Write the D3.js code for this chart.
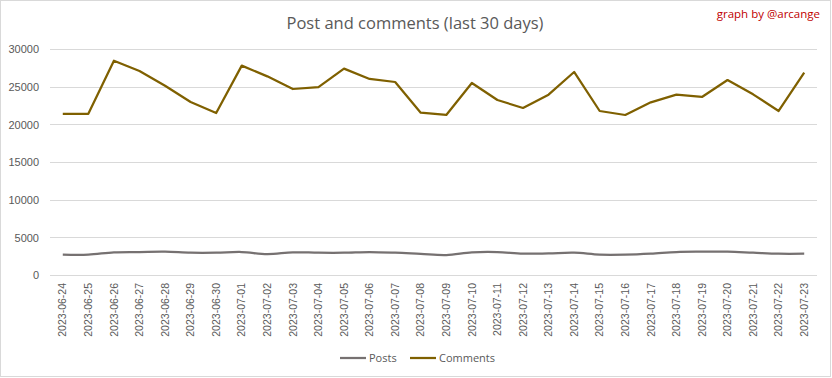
<!DOCTYPE html>
<html><head><meta charset="utf-8">
<script src="https://cdn.jsdelivr.net/npm/d3@7/dist/d3.min.js"></script>
<style>
html,body{margin:0;padding:0;background:#fff;}
svg{display:block;font-family:"Open Sans",sans-serif;}
</style></head>
<body><svg id="chart" width="832" height="378"></svg>
<script>
const dates = ["2023-06-24","2023-06-25","2023-06-26","2023-06-27","2023-06-28","2023-06-29","2023-06-30","2023-07-01","2023-07-02","2023-07-03","2023-07-04","2023-07-05","2023-07-06","2023-07-07","2023-07-08","2023-07-09","2023-07-10","2023-07-11","2023-07-12","2023-07-13","2023-07-14","2023-07-15","2023-07-16","2023-07-17","2023-07-18","2023-07-19","2023-07-20","2023-07-21","2023-07-22","2023-07-23"];
const posts = [2700,2700,3010,3050,3090,2960,2960,3050,2780,3010,2960,2960,3050,2960,2800,2650,3010,3050,2830,2870,2960,2700,2700,2830,3050,3090,3090,2960,2830,2830];
const comments = [21400,21400,28450,27080,25130,22960,21500,27790,26370,24690,24950,27390,26020,25620,21550,21240,25490,23230,22170,23940,26950,21770,21240,22920,23940,23630,25880,23980,21770,26860];
const yTicks = [0,5000,10000,15000,20000,25000,30000];
const seriesNames = ["Posts","Comments"];
const colors = ["#767171","#7f6000"];

const svg = d3.select("#chart");
const W = 832, H = 378;
const m = {left:50, right:15, top:49, bottom:103};

svg.append("rect").attr("x",0.5).attr("y",0.5).attr("width",W-2).attr("height",H-2)
  .attr("fill","#fff").attr("stroke","#d9d9d9");

const x = d3.scaleBand().domain(dates).range([m.left, W-m.right]);
const y = d3.scaleLinear().domain([0,30000]).range([H-m.bottom, m.top]);

svg.append("g").selectAll("line").data(yTicks).join("line")
  .attr("x1",m.left).attr("x2",W-m.right)
  .attr("y1",d=>Math.round(y(d))+0.5).attr("y2",d=>Math.round(y(d))+0.5)
  .attr("stroke","#d9d9d9").attr("stroke-width",1);

const yAxis = svg.append("g").attr("transform",`translate(${m.left-11},0)`)
  .call(d3.axisLeft(y).tickValues(yTicks).tickSize(0).tickPadding(0).tickFormat(d3.format("d")));
yAxis.select(".domain").remove();
yAxis.selectAll("text").attr("fill","#595959").attr("font-size","11px").attr("dy","0.35em");

const xAxis = svg.append("g").attr("transform",`translate(0,${H-m.bottom})`)
  .call(d3.axisBottom(x).tickSize(0).tickPadding(0));
xAxis.select(".domain").remove();
xAxis.selectAll("text")
  .attr("fill","#595959").attr("font-size","10.5px")
  .attr("transform","rotate(-90)")
  .attr("text-anchor","end")
  .attr("x",-8).attr("y",0).attr("dy","0.35em");

const cx = d => x(d) + x.bandwidth()/2;

const linePosts = d3.line().x((d,i)=>cx(dates[i])).y(d=>y(d)).curve(d3.curveCatmullRom.alpha(0.5));
const lineComments = d3.line().x((d,i)=>cx(dates[i])).y(d=>y(d));

svg.append("path").datum(posts).attr("d",linePosts)
  .attr("fill","none").attr("stroke",colors[0]).attr("stroke-width",2.25).attr("stroke-linejoin","round");
svg.append("path").datum(comments).attr("d",lineComments)
  .attr("fill","none").attr("stroke",colors[1]).attr("stroke-width",2.25).attr("stroke-linejoin","round");

svg.append("text").attr("x",415).attr("y",29).attr("text-anchor","middle")
  .attr("fill","#595959").attr("font-size","16.5px").text("Post and comments (last 30 days)");
svg.append("text").attr("x",820).attr("y",18).attr("text-anchor","end")
  .attr("fill","#c00000").attr("font-size","11.5px").text("graph by @arcange");

const legX = [340,410];
const lg = svg.append("g").selectAll("g").data(seriesNames).join("g")
  .attr("transform",(d,i)=>`translate(${legX[i]},358)`);
lg.append("line").attr("x1",0).attr("x2",26).attr("y1",0).attr("y2",0)
  .attr("stroke",(d,i)=>colors[i]).attr("stroke-width",2.25);
lg.append("text").attr("x",29).attr("y",0).attr("dy","0.35em")
  .attr("fill","#595959").attr("font-size","11px").text(d=>d);
</script></body></html>
